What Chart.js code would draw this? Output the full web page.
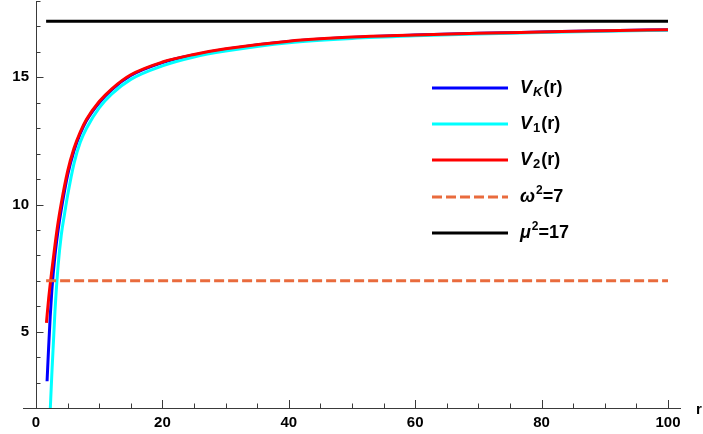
<!DOCTYPE html>
<html>
<head>
<meta charset="utf-8">
<script src="https://cdn.jsdelivr.net/npm/chart.js@4.4.1/dist/chart.umd.min.js"></script>
<style>
  html, body { margin: 0; padding: 0; background: #fff; }
  #wrap { width: 703px; height: 434px; position: relative; }
</style>
</head>
<body>
<div id="wrap"><canvas id="c"></canvas></div>
<script>
// values
const rK = [1.75, 2, 2.25, 2.5, 3, 3.5, 4, 5, 6, 7, 8, 10, 12, 15, 20, 25, 30, 40, 50, 60, 70, 80, 90, 100];
const vK = [3.05, 4.4, 5.6, 6.6, 8.0, 9.0, 9.8, 11.15, 12.1, 12.78, 13.3, 14.0, 14.52, 15.07, 15.58, 15.88, 16.1, 16.41, 16.57, 16.66, 16.73, 16.78, 16.83, 16.87];

const r1 = [2.25, 2.5, 3, 3.5, 4, 4.5, 5, 6, 7, 8, 10, 12, 15, 20, 25, 30, 40, 50, 60, 70, 80, 90, 100];
const v1 = [1.9, 3.3, 5.8, 7.6, 8.8, 9.6, 10.35, 11.6, 12.45, 13.0, 13.8, 14.35, 14.92, 15.45, 15.8, 16.03, 16.36, 16.53, 16.63, 16.7, 16.76, 16.81, 16.85];

const r2 = [1.65, 2, 2.5, 3, 3.5, 4, 5, 6, 7, 8, 10, 12, 15, 20, 25, 30, 40, 50, 60, 70, 80, 90, 100];
const v2 = [5.35, 6.3, 7.4, 8.4, 9.3, 10.05, 11.3, 12.2, 12.85, 13.35, 14.05, 14.55, 15.1, 15.6, 15.9, 16.12, 16.42, 16.58, 16.66, 16.73, 16.78, 16.83, 16.87];

const rLine = [1.6, 100];
const omega2 = 7;
const mu2 = 17.2;

const xTicks = [0, 20, 40, 60, 80, 100];
const yTicks = [5, 10, 15];

const pts = (xs, ys) => xs.map((x, i) => ({ x, y: ys[i] }));

const axisColor = '#3a3a3a';
const tickFont = 'bold 15px "Liberation Sans", Arial, sans-serif';

// axes, minor ticks, legend and the "r" label, Mathematica style
const decor = {
    id: 'decor',
    afterDatasetsDraw(chart) {
        const { ctx, scales: { x, y } } = chart;
        const x0 = x.getPixelForValue(0);
        const yb = y.getPixelForValue(2);
        ctx.save();
        ctx.strokeStyle = axisColor;
        ctx.lineWidth = 1;
        ctx.beginPath();
        ctx.moveTo(23, yb + 0.5);
        ctx.lineTo(681, yb + 0.5);
        ctx.moveTo(x0 + 0.5, y.getPixelForValue(18) + 1);
        ctx.lineTo(x0 + 0.5, yb);
        for (let v = 3; v <= 18; v++) {
            const py = Math.round(y.getPixelForValue(v)) + 0.5;
            const len = v % 5 === 0 ? 7.5 : 4.5;
            ctx.moveTo(x0, py);
            ctx.lineTo(x0 + len, py);
        }
        for (let r = 5; r <= 100; r += 5) {
            const px = Math.round(x.getPixelForValue(r)) + 0.5;
            const len = r % 20 === 0 ? 8 : 4.5;
            ctx.moveTo(px, yb);
            ctx.lineTo(px, yb - len);
        }
        ctx.stroke();

        ctx.fillStyle = '#000';
        ctx.font = tickFont;
        ctx.textBaseline = 'middle';
        ctx.fillText('r', 696, 410);

        // legend
        const items = chart.data.datasets.map(d => d).sort((a, b) => a.legendPos - b.legendPos);
        const bold = s => `bold ${s}px "Liberation Sans", Arial, sans-serif`;
        const ital = s => `italic bold ${s}px "Liberation Sans", Arial, sans-serif`;
        const rows = [88, 124, 160, 197, 233];
        items.forEach((d, i) => {
            const yy = rows[i];
            ctx.strokeStyle = d.borderColor;
            ctx.lineWidth = 3;
            ctx.setLineDash(d.borderDash || []);
            ctx.beginPath();
            ctx.moveTo(432, yy);
            ctx.lineTo(508, yy);
            ctx.stroke();
            ctx.setLineDash([]);
            let tx = 520;
            d.labelParts.forEach(p => {
                ctx.font = p.i ? ital(p.s) : bold(p.s);
                ctx.fillText(p.t, tx, yy + (p.dy || 0));
                tx += ctx.measureText(p.t).width + (p.gap || 0);
            });
        });
        ctx.restore();
    }
};

new Chart(document.getElementById('c'), {
    type: 'line',
    data: {
        datasets: [
            {
                label: 'omega', data: pts(rLine, [omega2, omega2]),
                borderColor: '#E96B3D', borderWidth: 3, borderDash: [10, 4], order: 0, legendPos: 3,
                labelParts: [{ t: 'ω', s: 18, i: true, gap: 1 }, { t: '2', s: 12, dy: -6 }, { t: '=7', s: 18 }]
            },
            {
                label: 'V2', data: pts(r2, v2),
                borderColor: '#FF0000', borderWidth: 3, order: 1, legendPos: 2,
                labelParts: [{ t: 'V', s: 18, i: true, gap: 1 }, { t: '2', s: 13, dy: 4, gap: 1 }, { t: '(r)', s: 18 }]
            },
            {
                label: 'V1', data: pts(r1, v1),
                borderColor: '#00FFFF', borderWidth: 3, order: 2, legendPos: 1,
                labelParts: [{ t: 'V', s: 18, i: true, gap: 1 }, { t: '1', s: 13, dy: 4, gap: 1 }, { t: '(r)', s: 18 }]
            },
            {
                label: 'VK', data: pts(rK, vK),
                borderColor: '#0000FF', borderWidth: 3, order: 3, legendPos: 0,
                labelParts: [{ t: 'V', s: 18, i: true, gap: 1 }, { t: 'K', s: 13, i: true, dy: 4, gap: 1 }, { t: '(r)', s: 18 }]
            },
            {
                label: 'mu', data: pts(rLine, [mu2, mu2]),
                borderColor: '#000000', borderWidth: 3, order: 4, legendPos: 4,
                labelParts: [{ t: 'μ', s: 18, i: true, gap: 1 }, { t: '2', s: 12, dy: -6 }, { t: '=17', s: 18 }]
            }
        ]
    },
    options: {
        responsive: true,
        maintainAspectRatio: false,
        animation: false,
        events: [],
        layout: { padding: { left: 0, right: 35, top: 1, bottom: 0 } },
        elements: {
            point: { radius: 0 },
            line: { cubicInterpolationMode: 'monotone', borderCapStyle: 'butt' }
        },
        plugins: { legend: { display: false }, tooltip: { enabled: false } },
        scales: {
            x: {
                type: 'linear', min: 0, max: 100,
                afterBuildTicks: s => { s.ticks = xTicks.map(v => ({ value: v })); },
                afterFit: s => { s.height = 26; s.paddingLeft = 0; s.paddingRight = 0; },
                grid: { display: false, drawTicks: false },
                border: { display: false },
                ticks: { color: '#000', font: { family: '"Liberation Sans", Arial, sans-serif', size: 15, weight: 'bold' }, padding: 6, maxRotation: 0 }
            },
            y: {
                type: 'linear', min: 2, max: 18,
                afterBuildTicks: s => { s.ticks = yTicks.map(v => ({ value: v })); },
                afterFit: s => { s.width = 36; s.paddingTop = 0; s.paddingBottom = 0; },
                grid: { display: false, drawTicks: false },
                border: { display: false },
                ticks: { color: '#000', font: { family: '"Liberation Sans", Arial, sans-serif', size: 15, weight: 'bold' }, padding: 7 }
            }
        }
    },
    plugins: [decor]
});
</script>
</body>
</html>
